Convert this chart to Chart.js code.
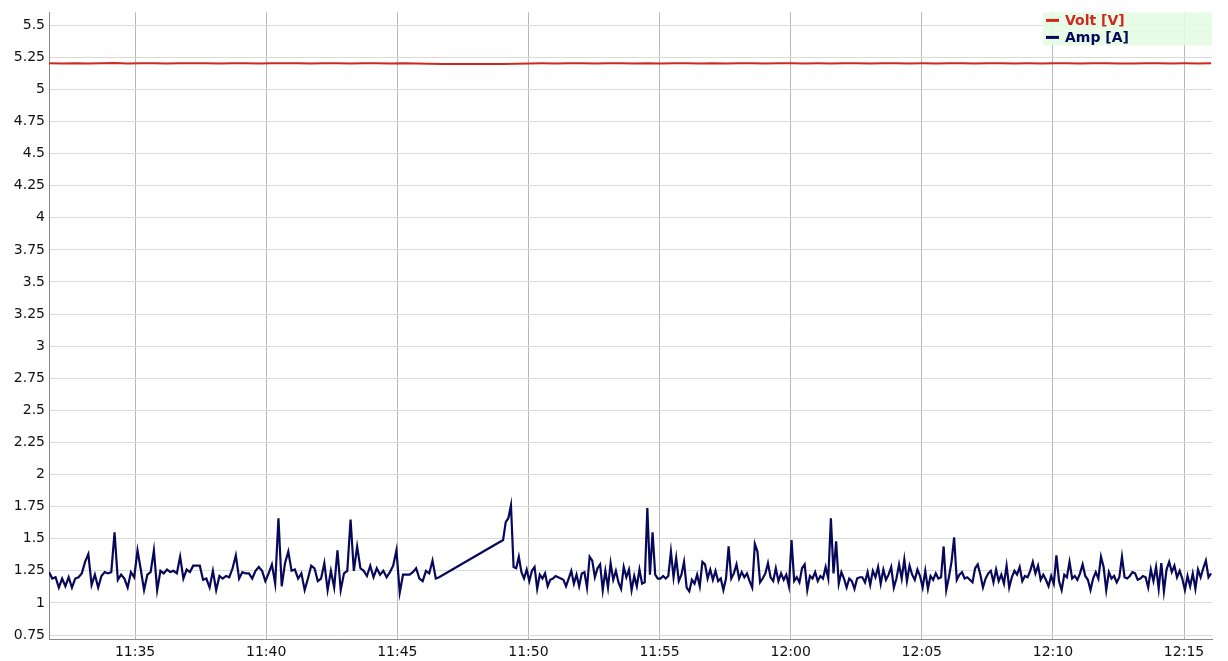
<!DOCTYPE html>
<html><head><meta charset="utf-8">
<script src="https://cdn.jsdelivr.net/npm/chart.js@4.4.1/dist/chart.umd.min.js"></script>
<style>html,body{margin:0;padding:0;background:#fff;}canvas{display:block;}</style>
</head><body>
<canvas id="c" width="1228" height="661"></canvas>
<script>
// ---- Data ----
const seriesLabels = ['Volt [V]', 'Amp [A]'];
const xTickLabels = ['11:35','11:40','11:45','11:50','11:55','12:00','12:05','12:10','12:15'];
const yTickLabels = ['0.75','1','1.25','1.5','1.75','2','2.25','2.5','2.75','3','3.25','3.5','3.75','4','4.25','4.5','4.75','5','5.25','5.5'];
const xRange = ['11:31:43', '12:16:04'];
const yRange = [0.719, 5.60];

// Amp samples, first block (sampled every 7.5 s)
const ampSeg1Start = '11:31:43';
const ampSeg1StepSec = 7.5;
const ampSeg1 = [
1.24,1.19,1.20,1.12,1.19,1.13,1.20,1.12,1.19,1.20,
1.23,1.32,1.38,1.14,1.22,1.12,1.21,1.24,1.23,1.24,
1.55,1.18,1.22,1.19,1.12,1.24,1.20,1.41,1.26,1.10,
1.22,1.24,1.41,1.10,1.25,1.23,1.26,1.24,1.25,1.23,
1.36,1.19,1.26,1.24,1.29,1.29,1.29,1.18,1.19,1.12,
1.25,1.10,1.21,1.19,1.21,1.20,1.27,1.37,1.19,1.24,
1.23,1.23,1.19,1.25,1.28,1.25,1.17,1.23,1.30,1.15,
1.66,1.13,1.31,1.40,1.25,1.26,1.19,1.23,1.10,1.19,
1.29,1.27,1.17,1.19,1.31,1.10,1.25,1.12,1.41,1.10,
1.23,1.25,1.65,1.25,1.44,1.27,1.25,1.21,1.29,1.20,
1.27,1.22,1.25,1.20,1.24,1.29,1.41,1.08,1.22,1.22,
1.22,1.24,1.27,1.19,1.17,1.25,1.23,1.33,1.19,1.20];

// Amp samples, second block (sampled every 6 s)
const ampSeg2Start = '11:49:02';
const ampSeg2StepSec = 6;
const ampSeg2 = [
1.49,1.63,1.66,1.76,1.28,1.27,1.36,1.24,1.19,1.26,
1.17,1.25,1.28,1.11,1.22,1.19,1.23,1.13,1.18,1.19,
1.21,1.20,1.19,1.18,1.13,1.19,1.25,1.15,1.22,1.13,
1.23,1.24,1.12,1.36,1.33,1.20,1.27,1.30,1.10,1.25,
1.12,1.31,1.18,1.25,1.16,1.11,1.28,1.20,1.26,1.10,
1.21,1.13,1.26,1.15,1.16,1.74,1.22,1.55,1.22,1.19,
1.19,1.21,1.19,1.21,1.40,1.20,1.35,1.17,1.22,1.32,
1.12,1.09,1.18,1.15,1.22,1.13,1.32,1.30,1.19,1.26,
1.18,1.25,1.17,1.19,1.10,1.19,1.44,1.19,1.23,1.30,
1.19,1.24,1.20,1.23,1.17,1.12,1.46,1.40,1.16,1.19,
1.23,1.31,1.20,1.17,1.27,1.17,1.23,1.18,1.22,1.13,
1.49,1.17,1.20,1.16,1.27,1.30,1.10,1.21,1.19,1.24,
1.17,1.21,1.19,1.28,1.19,1.66,1.23,1.48,1.15,1.24,
1.19,1.12,1.19,1.17,1.11,1.19,1.20,1.20,1.16,1.24,
1.14,1.25,1.20,1.28,1.15,1.26,1.18,1.22,1.28,1.12,
1.19,1.30,1.19,1.34,1.17,1.29,1.22,1.18,1.26,1.21,
1.12,1.25,1.11,1.21,1.18,1.23,1.19,1.20,1.44,1.10,
1.20,1.32,1.51,1.18,1.22,1.24,1.19,1.20,1.18,1.16,
1.27,1.30,1.22,1.12,1.19,1.23,1.25,1.16,1.26,1.17,
1.22,1.15,1.29,1.12,1.20,1.25,1.22,1.28,1.17,1.21,
1.20,1.25,1.32,1.23,1.29,1.18,1.22,1.18,1.13,1.21,
1.15,1.37,1.17,1.10,1.22,1.20,1.32,1.19,1.21,1.18,
1.23,1.30,1.21,1.18,1.10,1.19,1.24,1.19,1.36,1.28,
1.10,1.24,1.19,1.21,1.16,1.20,1.36,1.20,1.19,1.21,
1.24,1.23,1.18,1.19,1.21,1.20,1.12,1.26,1.17,1.28,
1.11,1.31,1.09,1.26,1.32,1.24,1.29,1.20,1.25,1.19,
1.10,1.21,1.13,1.23,1.11,1.26,1.20,1.27,1.33,1.20,1.23];

// Volt samples (every 30 s)
const voltSeg1Start = '11:31:43';
const voltSeg1StepSec = 30;
const voltSeg1 = [5.203,5.201,5.204,5.202,5.203,5.205,5.202,5.203,5.204,5.202,
5.203,5.204,5.203,5.202,5.204,5.203,5.202,5.204,5.203,5.203,
5.202,5.204,5.203,5.202,5.203,5.204,5.202,5.203,5.201,5.200,5.198];
const voltSeg2Start = '11:49:02';
const voltSeg2StepSec = 30;
const voltSeg2 = [5.198,5.200,5.202,5.203,5.202,5.204,5.203,5.202,5.204,5.203,
5.201,5.204,5.202,5.203,5.204,5.202,5.203,5.201,5.204,5.203,
5.202,5.203,5.204,5.202,5.203,5.202,5.204,5.203,5.201,5.203,
5.204,5.202,5.203,5.202,5.204,5.203,5.201,5.203,5.204,5.202,
5.203,5.202,5.204,5.203,5.202,5.203,5.204,5.202,5.201,5.203,
5.204,5.202,5.203,5.202,5.203];

// ---- Helpers ----
function toMin(s){const p=s.split(':').map(Number);return p[0]*60+p[1]+(p[2]||0)/60;}
function build(start, stepSec, vals){const t0=toMin(start);return vals.map((v,i)=>({x:t0+i*stepSec/60,y:v}));}
const xTickValues = xTickLabels.map(toMin);
const yTickValues = yTickLabels.map(Number);

const voltData = build(voltSeg1Start, voltSeg1StepSec, voltSeg1).concat(build(voltSeg2Start, voltSeg2StepSec, voltSeg2));
const ampData = build(ampSeg1Start, ampSeg1StepSec, ampSeg1).concat(build(ampSeg2Start, ampSeg2StepSec, ampSeg2));

const RED = '#d0281e', NAVY = '#08085a';
const FONT = 'DejaVu Sans';

const legendPlugin = {
  id: 'boxLegend',
  afterDraw(chart){
    const ctx = chart.ctx, a = chart.chartArea;
    const w = 169, h = 33, x = a.right - w, y = a.top;
    ctx.save();
    ctx.fillStyle = 'rgba(228,251,228,0.88)';
    ctx.fillRect(x, y, w, h);
    ctx.font = 'bold 14px "' + FONT + '"';
    ctx.textBaseline = 'middle';
    chart.data.datasets.forEach((ds, i) => {
      const cy = y + 8 + i * 17;
      ctx.strokeStyle = ds.borderColor;
      ctx.lineWidth = 3;
      ctx.beginPath(); ctx.moveTo(x + 3, cy); ctx.lineTo(x + 16, cy); ctx.stroke();
      ctx.fillStyle = ds.borderColor;
      ctx.fillText(ds.label, x + 22, cy + 1);
    });
    ctx.restore();
  }
};

new Chart(document.getElementById('c'), {
  type: 'line',
  data: {
    datasets: [
      {label: seriesLabels[0], data: voltData, borderColor: RED, backgroundColor: RED, borderWidth: 2, pointRadius: 0, tension: 0, fill: false},
      {label: seriesLabels[1], data: ampData, borderColor: NAVY, backgroundColor: NAVY, borderWidth: 2.2, pointRadius: 0, tension: 0, fill: false}
    ]
  },
  options: {
    responsive: false,
    animation: false,
    devicePixelRatio: 1,
    layout: {padding: {top: 9, right: 16, left: 0, bottom: 0}},
    plugins: {legend: {display: false}, tooltip: {enabled: false}},
    scales: {
      x: {
        type: 'linear',
        min: toMin(xRange[0]), max: toMin(xRange[1]),
        afterBuildTicks: s => { s.ticks = xTickValues.map(v => ({value: v})); },
        afterFit: s => { s.height = 22; },
        ticks: {autoSkip: false, maxRotation: 0, padding: 5, color: '#111',
          font: {family: FONT, size: 14},
          callback: v => { const i = xTickValues.findIndex(t => Math.abs(t - v) < 1e-6); return i >= 0 ? xTickLabels[i] : ''; }},
        grid: {color: '#b8b8b8', drawTicks: false, lineWidth: 1},
        border: {color: '#8a8a8a', width: 1}
      },
      y: {
        type: 'linear',
        min: yRange[0], max: yRange[1],
        afterBuildTicks: s => { s.ticks = yTickValues.map(v => ({value: v})); },
        afterFit: s => { s.width = 49; },
        ticks: {autoSkip: false, padding: 4, color: '#111',
          font: {family: FONT, size: 14},
          callback: v => { const i = yTickValues.findIndex(t => Math.abs(t - v) < 1e-6); return i >= 0 ? yTickLabels[i] : ''; }},
        grid: {color: '#dadada', drawTicks: false, lineWidth: 1},
        border: {color: '#8a8a8a', width: 1}
      }
    }
  },
  plugins: [legendPlugin]
});
</script>
</body></html>
